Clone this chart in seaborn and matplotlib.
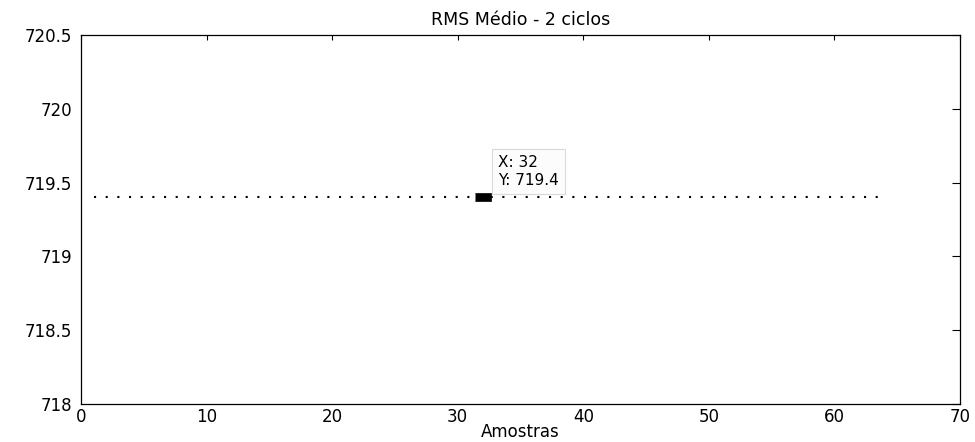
import numpy as np
import pandas as pd
import seaborn as sns
import matplotlib.pyplot as plt

# amostras 1..64, RMS medio (2 ciclos) - constante no grafico
amostras = list(range(1, 65))
rms_medio = [
    719.4, 719.4, 719.4, 719.4, 719.4, 719.4, 719.4, 719.4,
    719.4, 719.4, 719.4, 719.4, 719.4, 719.4, 719.4, 719.4,
    719.4, 719.4, 719.4, 719.4, 719.4, 719.4, 719.4, 719.4,
    719.4, 719.4, 719.4, 719.4, 719.4, 719.4, 719.4, 719.4,
    719.4, 719.4, 719.4, 719.4, 719.4, 719.4, 719.4, 719.4,
    719.4, 719.4, 719.4, 719.4, 719.4, 719.4, 719.4, 719.4,
    719.4, 719.4, 719.4, 719.4, 719.4, 719.4, 719.4, 719.4,
    719.4, 719.4, 719.4, 719.4, 719.4, 719.4, 719.4, 719.4,
]
tip_x = 32
tip_y = 719.4
x_ticks = [0, 10, 20, 30, 40, 50, 60, 70]
y_ticks = [718, 718.5, 719, 719.5, 720, 720.5]
y_labels = ['718', '718.5', '719', '719.5', '720', '720.5']

sns.set_style('white')
plt.rcParams['font.family'] = ['DejaVu Sans']
plt.rcParams['text.color'] = 'black'
plt.rcParams['axes.labelcolor'] = 'black'
plt.rcParams['xtick.color'] = 'black'
plt.rcParams['ytick.color'] = 'black'

df = pd.DataFrame({'Amostras': amostras, 'RMS': rms_medio})

fig = plt.figure(figsize=(9.75, 4.42), dpi=100)
ax = fig.add_axes([0.0831, 0.086, 0.9015, 0.8345])

# linha pontilhada (estilo ':' do matlab)
sns.lineplot(data=df, x='Amostras', y='RMS', ax=ax, color='black',
             linewidth=1.5, linestyle=(0, (1, 4.6)))

# data tip
ax.plot([tip_x], [tip_y], marker=[(-1, -0.47), (1, -0.47), (1, 0.47), (-1, 0.47)],
        markersize=11.5, markeredgewidth=0.5, color='black', zorder=5)
ax.annotate('X: %d\nY: %.1f' % (tip_x, tip_y), xy=(tip_x, tip_y),
            xytext=(11, 7), textcoords='offset points', ha='left', va='bottom',
            fontsize=11, linespacing=1.2, color='black',
            bbox=dict(boxstyle='square,pad=0.4', fc='#fcfcfc', ec='#dadada', lw=0.8),
            zorder=6)

ax.set_xlim(0, 70)
ax.set_ylim(718, 720.5)
ax.set_xticks(x_ticks)
ax.set_yticks(y_ticks)
ax.set_yticklabels(y_labels)
ax.tick_params(direction='in', top=True, right=True, labelsize=12,
               width=0.8, color='black', labelcolor='black')
ax.tick_params(axis='y', pad=6.5, length=5.5)
ax.tick_params(axis='x', pad=3, length=3.6)
for s in ax.spines.values():
    s.set_visible(True)
    s.set_color('black')
    s.set_linewidth(0.9)

ax.set_title('RMS Médio - 2 ciclos', fontsize=12.5, pad=7, color='black')
ax.set_xlabel('Amostras', fontsize=12, labelpad=-2)
ax.set_ylabel('')

fig.savefig('out.png', dpi=100)
